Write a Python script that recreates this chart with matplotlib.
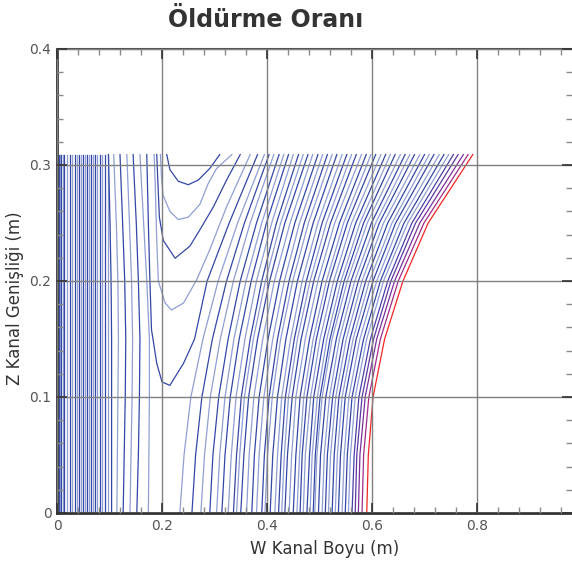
import matplotlib.pyplot as plt
from matplotlib.ticker import MultipleLocator, FuncFormatter

# Z positions (m) at which the W position of each sloping contour is tabulated
z_levels = [0.0, 0.05, 0.10, 0.15, 0.20, 0.25, 0.309]

# nearly straight contours close to the inlet (W, m)
inlet_w = [0.002, 0.004, 0.006, 0.008, 0.011, 0.014, 0.019, 0.025, 0.029,
           0.034, 0.038, 0.042, 0.046, 0.050, 0.054, 0.057, 0.061, 0.065,
           0.069, 0.072, 0.077, 0.082, 0.086, 0.091, 0.097]

# slightly bent contours, W at each of z_levels
bent_w = [
    [0.104, 0.104, 0.104, 0.104, 0.103, 0.101, 0.098],
    [0.114, 0.115, 0.116, 0.117, 0.116, 0.113, 0.108],
    [0.126, 0.128, 0.130, 0.131, 0.129, 0.125, 0.120],
    [0.139, 0.141, 0.143, 0.144, 0.142, 0.138, 0.133],
    [0.152, 0.155, 0.157, 0.158, 0.155, 0.151, 0.145],
    [0.174, 0.175, 0.176, 0.176, 0.171, 0.165, 0.158],
]

# contours that dip down around the low pocket near W = 0.2 m (W, Z pairs)
pocket_w = [
    [0.171, 0.174, 0.177, 0.180, 0.190, 0.200, 0.215, 0.241, 0.262, 0.286, 0.328, 0.382],
    [0.185, 0.187, 0.190, 0.193, 0.206, 0.218, 0.241, 0.266, 0.291, 0.323, 0.349, 0.368],
    [0.190, 0.192, 0.195, 0.2025, 0.225, 0.253, 0.272, 0.298, 0.323, 0.349],
    [0.197, 0.199, 0.202, 0.215, 0.231, 0.250, 0.272, 0.288, 0.304, 0.333],
    [0.209, 0.215, 0.231, 0.250, 0.269, 0.291, 0.310],
]
pocket_z = [
    [0.309, 0.250, 0.200, 0.158, 0.129, 0.113, 0.110, 0.129, 0.150, 0.200, 0.250, 0.309],
    [0.309, 0.284, 0.235, 0.200, 0.181, 0.175, 0.181, 0.201, 0.227, 0.264, 0.290, 0.309],
    [0.309, 0.287, 0.255, 0.235, 0.2196, 0.230, 0.244, 0.264, 0.287, 0.309],
    [0.309, 0.290, 0.274, 0.260, 0.253, 0.255, 0.266, 0.284, 0.297, 0.309],
    [0.309, 0.296, 0.286, 0.283, 0.287, 0.297, 0.309],
]

# sloping contours, W of each contour at every entry of z_levels
w_z000 = [0.234, 0.257, 0.274, 0.291, 0.304, 0.314, 0.326, 0.336, 0.342, 0.350, 0.361,
          0.371, 0.380, 0.390, 0.396, 0.406, 0.415, 0.422, 0.428, 0.434, 0.442, 0.450,
          0.457, 0.463, 0.469, 0.476, 0.482, 0.488, 0.491, 0.498, 0.505, 0.511, 0.517,
          0.524, 0.530, 0.536, 0.543, 0.549, 0.555, 0.562, 0.568, 0.574, 0.581, 0.590]
w_z005 = [0.242, 0.264, 0.281, 0.297, 0.310, 0.320, 0.332, 0.342, 0.348, 0.356, 0.366,
          0.376, 0.385, 0.395, 0.401, 0.411, 0.420, 0.427, 0.433, 0.439, 0.447, 0.455,
          0.462, 0.467, 0.473, 0.481, 0.486, 0.492, 0.495, 0.502, 0.509, 0.515, 0.521,
          0.528, 0.534, 0.540, 0.547, 0.553, 0.559, 0.566, 0.571, 0.577, 0.584, 0.593]
w_z010 = [0.255, 0.276, 0.292, 0.308, 0.320, 0.330, 0.341, 0.351, 0.357, 0.365, 0.375,
          0.385, 0.394, 0.404, 0.410, 0.420, 0.428, 0.435, 0.441, 0.448, 0.455, 0.463,
          0.470, 0.476, 0.483, 0.489, 0.496, 0.501, 0.505, 0.512, 0.519, 0.525, 0.531,
          0.537, 0.543, 0.549, 0.556, 0.562, 0.568, 0.575, 0.581, 0.587, 0.594, 0.602]
w_z015 = [0.278, 0.296, 0.311, 0.326, 0.337, 0.347, 0.358, 0.368, 0.374, 0.382, 0.392,
          0.402, 0.411, 0.420, 0.426, 0.436, 0.445, 0.452, 0.458, 0.465, 0.473, 0.481,
          0.488, 0.494, 0.501, 0.508, 0.514, 0.520, 0.524, 0.532, 0.538, 0.545, 0.551,
          0.558, 0.564, 0.570, 0.577, 0.584, 0.590, 0.597, 0.603, 0.609, 0.616, 0.624]
w_z020 = [0.307, 0.323, 0.336, 0.349, 0.360, 0.370, 0.380, 0.390, 0.397, 0.405, 0.414,
          0.424, 0.433, 0.442, 0.449, 0.458, 0.467, 0.475, 0.482, 0.489, 0.497, 0.505,
          0.513, 0.519, 0.527, 0.534, 0.541, 0.547, 0.553, 0.560, 0.567, 0.574, 0.581,
          0.588, 0.595, 0.602, 0.609, 0.616, 0.622, 0.630, 0.636, 0.643, 0.650, 0.659]
w_z025 = [0.344, 0.357, 0.368, 0.380, 0.390, 0.399, 0.409, 0.418, 0.426, 0.434, 0.444,
          0.453, 0.462, 0.471, 0.479, 0.488, 0.497, 0.505, 0.513, 0.521, 0.529, 0.538,
          0.546, 0.553, 0.561, 0.569, 0.577, 0.584, 0.591, 0.599, 0.607, 0.614, 0.622,
          0.630, 0.638, 0.645, 0.653, 0.661, 0.668, 0.676, 0.683, 0.691, 0.699, 0.707]
w_z031 = [0.395, 0.404, 0.413, 0.423, 0.432, 0.441, 0.450, 0.460, 0.469, 0.478, 0.487,
          0.497, 0.506, 0.515, 0.524, 0.533, 0.543, 0.552, 0.561, 0.570, 0.580, 0.589,
          0.598, 0.607, 0.617, 0.626, 0.635, 0.644, 0.654, 0.663, 0.672, 0.681, 0.691,
          0.700, 0.709, 0.718, 0.728, 0.737, 0.746, 0.755, 0.764, 0.774, 0.783, 0.792]

dark_blue = "#3347a6"
light_blue = "#8f9ed3"
# the highest kill-rate levels shade from blue through purple into red
top_colors = ["#4a3fa8", "#5d37a3", "#7c309c", "#a02c88", "#f22626"]

fig = plt.figure(figsize=(5.72, 5.64), dpi=100)
ax = fig.add_axes([57 / 572, 51 / 564, 515 / 572, 464 / 564])

k = 0
for w in inlet_w:
    ax.plot([w, w], [0, z_levels[-1]], color=dark_blue if k % 2 else light_blue, lw=0.9)
    k += 1

for row in bent_w:
    ax.plot(row, z_levels, color=dark_blue if k % 2 else light_blue, lw=0.9)
    k += 1

for pw, pz in zip(pocket_w, pocket_z):
    ax.plot(pw, pz, color=dark_blue if k % 2 else light_blue, lw=0.9)
    k += 1

sloped = list(zip(w_z000, w_z005, w_z010, w_z015, w_z020, w_z025, w_z031))
n_sloped = len(sloped)
for i, row in enumerate(sloped):
    j = i - (n_sloped - len(top_colors))
    if j >= 0:
        color = top_colors[j]
    else:
        color = dark_blue if k % 2 else light_blue
    ax.plot(row, z_levels, color=color, lw=0.9)
    k += 1

ax.set_xlim(0, 515 / 525)
ax.set_ylim(0, 0.4)

ax.xaxis.set_major_locator(MultipleLocator(0.2))
ax.xaxis.set_minor_locator(MultipleLocator(0.04))
ax.yaxis.set_major_locator(MultipleLocator(0.1))
ax.yaxis.set_minor_locator(MultipleLocator(0.02))
fmt = FuncFormatter(lambda v, _: f"{v:g}")
ax.xaxis.set_major_formatter(fmt)
ax.yaxis.set_major_formatter(fmt)

ax.grid(True, which="major", color="#808080", lw=1.0)
ax.set_axisbelow(False)

ax.tick_params(which="both", direction="in", top=True, right=True,
               labelsize=10, labelcolor="#555555")
ax.tick_params(which="major", length=7, width=1.2, color="#333333", pad=4)
ax.tick_params(which="minor", length=4, width=1.0, color="#8a8a8a")

for side in ("left", "bottom"):
    ax.spines[side].set_color("#333333")
    ax.spines[side].set_linewidth(2.0)
ax.spines["top"].set_color("#555555")
ax.spines["top"].set_linewidth(1.5)
ax.spines["right"].set_visible(False)

fig.text(266 / 572, 1 - 20 / 564, "Öldürme Oranı", ha="center", va="center",
         fontsize=17, fontweight="bold", color="#333333")
fig.text(325 / 572, 1 - 549 / 564, "W Kanal Boyu (m)", ha="center", va="center",
         fontsize=12, color="#333333")
fig.text(15 / 572, 1 - 298 / 564, "Z Kanal Genişliği (m)", ha="center", va="center",
         rotation=90, fontsize=12, color="#333333")

fig.savefig("out.png", dpi=100)
